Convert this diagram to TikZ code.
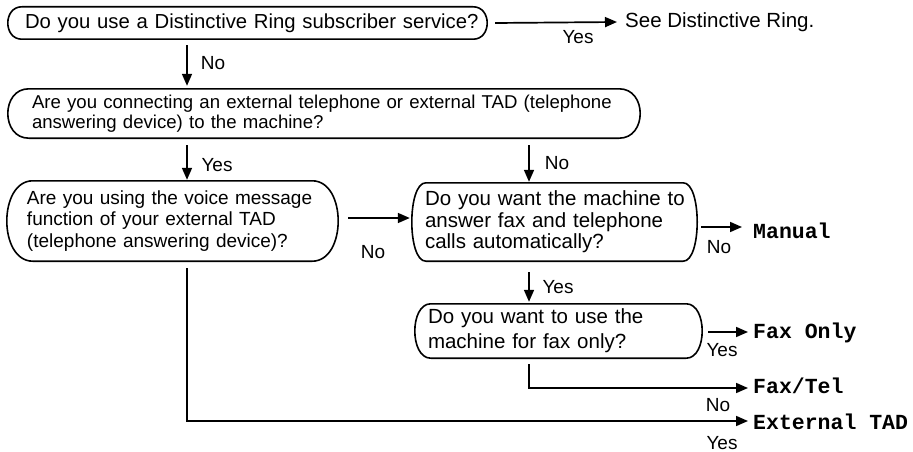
\documentclass[tikz,border=0pt]{standalone}
\usepackage{fontspec}
\setmainfont{Liberation Sans}
\newfontfamily\monofont{Liberation Mono}
\usetikzlibrary{arrows.meta}
\newcommand\pillbox[2]{%
  \draw[boxline] ([xshift=#2]#1.north west) -- ([xshift=-#2]#1.north east)
    .. controls ([xshift={#2/3}]#1.north east) and ([xshift={#2/3}]#1.south east) .. ([xshift=-#2]#1.south east)
    -- ([xshift=#2]#1.south west)
    .. controls ([xshift={-#2/3}]#1.south west) and ([xshift={-#2/3}]#1.north west) .. ([xshift=#2]#1.north west) -- cycle;}
\begin{document}
\begin{tikzpicture}[x=1pt,y=-1pt,
  box/.style={rectangle, draw=none, inner sep=0pt, align=left,
    font=\fontsize{20}{21.5}\selectfont},
  boxline/.style={line width=1.6pt, line join=round},
  arr/.style={line width=1.7pt, -{Triangle[length=12pt,width=10pt]}},
  lab/.style={inner sep=0pt, font=\fontsize{19}{20}\selectfont},
  term/.style={inner sep=0pt, anchor=west, font=\monofont\bfseries\fontsize{21.5}{22}\selectfont},
]
\useasboundingbox (0,0) rectangle (913,452);

% question boxes
\node[box, minimum width=479pt, minimum height=32pt, text width=445pt,
  font=\fontsize{20.3}{21.5}\selectfont] (b1) at (247.5,23)
  {\mbox{Do you use a Distinctive Ring subscriber service?}};
\node[box, minimum width=632pt, minimum height=49pt, text width=584pt,
  font=\fontsize{18.6}{20}\selectfont] (b2) at (324,113.5)
  {\mbox{Are you connecting an external telephone or external TAD (telephone}\\\mbox{answering device) to the machine?}};
\node[box, minimum width=331pt, minimum height=80pt, text width=291pt,
  font=\fontsize{19}{21.5}\selectfont] (b3) at (172.5,221)
  {\mbox{Are you using the voice message}\\\mbox{function of your external TAD}\\\mbox{(telephone answering device)?}};
\node[box, minimum width=285pt, minimum height=78pt, text width=259pt,
  font=\fontsize{20.5}{21.5}\selectfont] (b4) at (554.5,222)
  {\mbox{Do you want the machine to}\\\mbox{answer fax and telephone}\\\mbox{calls automatically?}};
\node[box, minimum width=287pt, minimum height=54pt, text width=261pt,
  font=\fontsize{20.5}{25}\selectfont] (b5) at (558.5,331)
  {\mbox{Do you want to use the}\\\mbox{machine for fax only?}};

\pillbox{b1}{14}
\pillbox{b2}{21}
\pillbox{b3}{26}
\pillbox{b4}{14}
\pillbox{b5}{16}

% terminals
\node[inner sep=0pt, anchor=west, font=\fontsize{20.5}{22}\selectfont] (sdr) at (625,22) {See Distinctive Ring.};
\node[term] (man) at (753,231) {Manual};
\node[term] (fo) at (753,333) {Fax Only};
\node[term] (ft) at (753,386) {Fax/Tel};
\node[term] (et) at (753,422) {External TAD};

% helper coordinates
\coordinate (xL) at (187,0);
\coordinate (xR) at (529,0);
\coordinate (yA) at (0,218);
\coordinate (yM) at (0,227);
\coordinate (yF) at (0,332);
\coordinate (yT) at (0,388);
\coordinate (yE) at (0,421);

% connectors
\draw[arr] ([xshift=8pt]b1.east) -- ([xshift=-8pt]sdr.west);
\draw[arr] ([yshift=-6pt]b1.south -| xL) -- ([yshift=3pt]b2.north -| xL);
\draw[arr] ([yshift=-7pt]b2.south -| xL) -- ([yshift=1pt]b3.north -| xL);
\draw[arr] ([yshift=-7pt]b2.south -| xR) -- ([yshift=1pt]b4.north -| xR);
\draw[arr] ([xshift=10pt]b3.east |- yA) -- ([xshift=-2pt]b4.west |- yA);
\draw[arr] ([xshift=4pt]b4.east |- yM) -- ([xshift=-11pt]man.west |- yM);
\draw[arr] ([yshift=-11pt]b4.south -| xR) -- ([yshift=2pt]b5.north -| xR);
\draw[arr] ([xshift=6pt]b5.east |- yF) -- ([xshift=-5pt]fo.west |- yF);
\draw[arr] ([yshift=-6pt]b5.south -| xR) -- (xR |- yT) -- ([xshift=-5pt]ft.west |- yT);
\draw[arr] ([yshift=-7pt]b3.south -| xL) -- (xL |- yE) -- ([xshift=-5pt]et.west |- yE);

% labels
\node[lab] (l1) at (578,37) {Yes};
\node[lab] (l2) at (213,63) {No};
\node[lab] (l3) at (217,165) {Yes};
\node[lab] (l4) at (557,163) {No};
\node[lab] (l5) at (373,252) {No};
\node[lab] (l6) at (719,247) {No};
\node[lab] (l7) at (558,287) {Yes};
\node[lab] (l8) at (722,350) {Yes};
\node[lab] (l9) at (718,405) {No};
\node[lab] (l10) at (722,443) {Yes};
\end{tikzpicture}
\end{document}
